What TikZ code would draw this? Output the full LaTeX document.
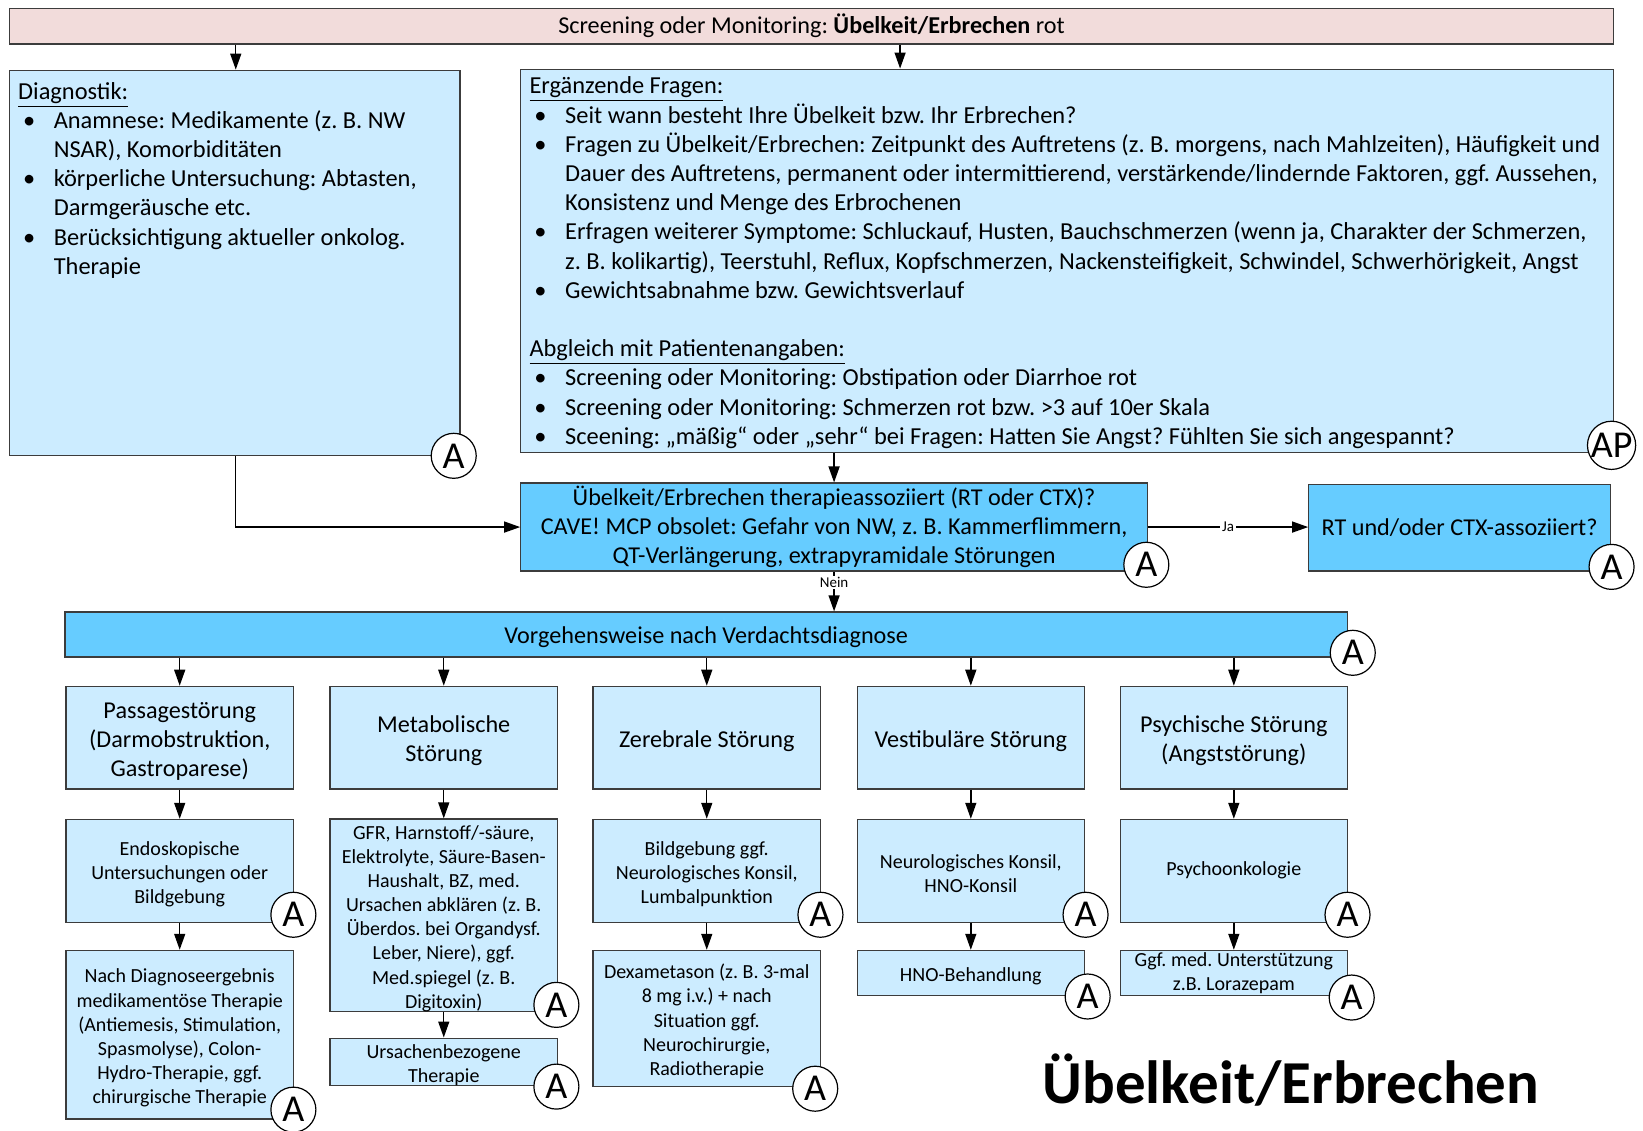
\documentclass[tikz,border=0pt]{standalone}
\usepackage{fontspec}
\setmainfont{Carlito}
\usetikzlibrary{arrows.meta,fit}
\definecolor{paleblue}{RGB}{204,236,255}
\definecolor{midblue}{RGB}{102,204,255}
\definecolor{palerose}{RGB}{242,220,219}
\definecolor{edgegray}{RGB}{60,60,60}
\frenchspacing
% bullet list lines with hanging indent
\newcommand\lstbul[1]{\hspace*{2.4pt}\makebox[15.4pt][l]{\textbullet}#1}
\newcommand\lstcont[1]{\hspace*{17.8pt}#1}
% struts that give the first line of a box a little more headroom
\newcommand\hstrutL{\rule{0pt}{11.5pt}}
\newcommand\hstrutS{\rule{0pt}{10.2pt}}
\begin{document}
\begin{tikzpicture}[x=0.5239pt, y=-0.5239pt,
  box/.style={draw=edgegray, line width=0.6pt, inner sep=0pt},
  pale/.style={box, fill=paleblue},
  mid/.style={box, fill=midblue},
  sz/.style 2 args={minimum width=#1*0.5239pt, minimum height=#2*0.5239pt},
  arr/.style={draw=black, line width=0.7pt, -{Triangle[length=8pt,width=5.5pt]}},
  acirc/.style={circle, draw=black, line width=0.6pt, fill=white, minimum size=22.5pt,
    inner sep=0pt, font=\fontsize{19}{19}\selectfont},
  t12/.style={font=\fontsize{12.1}{14.6}\selectfont, align=center},
  t10/.style={font=\fontsize{10}{12.05}\selectfont, align=center},
  listtxt/.style={anchor=north west, inner sep=0pt, align=left,
    font=\fontsize{12.2}{14.6}\selectfont},
  tag/.style={fill=white, inner sep=0.8pt, font=\fontsize{7.5}{8}\selectfont},
]
\useasboundingbox (0,0) rectangle (1568,1079);

% header
\node[box, fill=palerose, sz={1531}{34}, t12] (scr) at (774.5,25)
  {Screening oder Monitoring: \textbf{Übelkeit/Erbrechen} rot};

% diagnostics and additional questions
\node[pale, fit={(9,67)(439,435)}] (diag) {};
\node[listtxt] (diagtxt) at (17,78) {\underline{Diagnostik:}\\
  \lstbul{Anamnese: Medikamente (z. B. NW}\\
  \lstcont{NSAR), Komorbiditäten}\\
  \lstbul{körperliche Untersuchung: Abtasten,}\\
  \lstcont{Darmgeräusche etc.}\\
  \lstbul{Berücksichtigung aktueller onkolog.}\\
  \lstcont{Therapie}};

\node[pale, fit={(497,66)(1540,432)}] (erg) {};
\node[listtxt] (ergtxt) at (505,73) {\underline{Ergänzende Fragen:}\\
  \lstbul{Seit wann besteht Ihre Übelkeit bzw. Ihr Erbrechen?}\\
  \lstbul{Fragen zu Übelkeit/Erbrechen: Zeitpunkt des Auftretens (z. B. morgens, nach Mahlzeiten), Häufigkeit und}\\
  \lstcont{Dauer des Auftretens, permanent oder intermittierend, verstärkende/lindernde Faktoren, ggf. Aussehen,}\\
  \lstcont{Konsistenz und Menge des Erbrochenen}\\
  \lstbul{Erfragen weiterer Symptome: Schluckauf, Husten, Bauchschmerzen (wenn ja, Charakter der Schmerzen,}\\
  \lstcont{z. B. kolikartig), Teerstuhl, Reflux, Kopfschmerzen, Nackensteifigkeit, Schwindel, Schwerhörigkeit, Angst}\\
  \lstbul{Gewichtsabnahme bzw. Gewichtsverlauf}\\[14.6pt]
  \underline{Abgleich mit Patientenangaben:}\\
  \lstbul{Screening oder Monitoring: Obstipation oder Diarrhoe rot}\\
  \lstbul{Screening oder Monitoring: Schmerzen rot bzw. >3 auf 10er Skala}\\
  \lstbul{Sceening: „mäßig“ oder „sehr“ bei Fragen: Hatten Sie Angst? Fühlten Sie sich angespannt?}};

% therapy question
\node[mid, sz={598}{84}, t12] (ther) at (796,503)
  {Übelkeit/Erbrechen therapieassoziiert (RT oder CTX)?\\
   CAVE! MCP obsolet: Gefahr von NW, z. B. Kammerflimmern,\\
   QT-Verlängerung, extrapyramidale Störungen};
\node[mid, sz={288}{83}, t12] (rt) at (1393,503.5) {RT und/oder CTX-assoziiert?};

\node[mid, sz={1224}{43}, t12] (vorg) at (674,605.5) {\hstrutL Vorgehensweise nach Verdachtsdiagnose};

% suspected diagnoses
\node[pale, sz={217}{98}, t12] (p1) at (171.5,704) {\hstrutL Passagestörung\\(Darmobstruktion,\\Gastroparese)};
\node[pale, sz={217}{98}, t12] (p2) at (423.5,704) {\hstrutL Metabolische\\Störung};
\node[pale, sz={217}{98}, t12] (p3) at (674.5,704) {\hstrutL Zerebrale Störung};
\node[pale, sz={217}{98}, t12] (p4) at (926.5,704) {\hstrutL Vestibuläre Störung};
\node[pale, sz={217}{98}, t12] (p5) at (1177.5,704) {\hstrutL Psychische Störung\\(Angststörung)};

% examinations
\node[pale, sz={217}{98}, t10] (q1) at (171.5,831) {\hstrutS Endoskopische\\Untersuchungen oder\\Bildgebung};
\node[pale, sz={217}{183}, t10] (q2) at (423.5,873.5) {\hstrutS GFR, Harnstoff/-säure,\\Elektrolyte, Säure-Basen-\\Haushalt, BZ, med.\\Ursachen abklären (z. B.\\Überdos. bei Organdysf.\\Leber, Niere), ggf.\\Med.spiegel (z. B.\\Digitoxin)};
\node[pale, sz={217}{98}, t10] (q3) at (674.5,831) {\hstrutS Bildgebung ggf.\\Neurologisches Konsil,\\Lumbalpunktion};
\node[pale, sz={217}{98}, t10] (q4) at (926.5,831) {\hstrutS Neurologisches Konsil,\\HNO-Konsil};
\node[pale, sz={217}{98}, t10] (q5) at (1177.5,831) {Psychoonkologie};

% treatments
\node[pale, sz={217}{161}, t10] (r1) at (171.5,987.5) {\hstrutS Nach Diagnoseergebnis\\medikamentöse Therapie\\(Antiemesis, Stimulation,\\Spasmolyse), Colon-\\Hydro-Therapie, ggf.\\chirurgische Therapie};
\node[pale, sz={217}{45}, t10] (r2) at (423.5,1013.5) {\hstrutS Ursachenbezogene\\Therapie};
\node[pale, sz={217}{130}, t10] (r3) at (674.5,972) {\hstrutS Dexametason (z. B. 3-mal\\8 mg i.v.) + nach\\Situation ggf.\\Neurochirurgie,\\Radiotherapie};
\node[pale, sz={217}{43}, t10] (r4) at (926.5,928.5) {\hstrutS HNO-Behandlung};
\node[pale, sz={217}{43}, t10] (r5) at (1177.5,928.5) {Ggf. med. Unterstützung\\z.B. Lorazepam};

% title
\node[anchor=base, inner sep=0pt, font=\fontsize{30.5}{36}\selectfont\bfseries] (title)
  at (1232,1053) {Übelkeit/Erbrechen};

% connectors
\coordinate (xd) at (225,0);
\coordinate (xe) at (859,0);
\draw[arr] (scr.south -| xd) -- (diag.north -| xd);
\draw[arr] (scr.south -| xe) -- (erg.north -| xe);
\draw[arr] (erg.south -| ther.north) -- (ther.north);
\draw[arr] (diag.south -| xd) |- (ther.west);
\draw[arr] (ther.east) -- node[tag] (ja) {Ja} (ther.east -| rt.west);
\draw[arr] (ther.south) -- node[tag, pos=0.27] (nein) {Nein} (vorg.north -| ther.south);
\foreach \i in {1,...,5} {
  \draw[arr] (vorg.south -| p\i.north) -- (p\i.north);
  \draw[arr] (p\i.south) -- (q\i.north);
  \draw[arr] (q\i.south) -- (r\i.north);
}

% responsibility markers
\node[acirc] (aDiag) at (433,435) {A};
\node[acirc] (aErg) at (1538,425) {AP};
\node[acirc] (aTher) at (1094,539) {A};
\node[acirc] (aRt) at (1538,541) {A};
\node[acirc] (aVorg) at (1291,623) {A};
\node[acirc] (aQ1) at (280,873) {A};
\node[acirc] (aR1) at (280,1059) {A};
\node[acirc] (aQ2) at (531,959) {A};
\node[acirc] (aR2) at (531,1037) {A};
\node[acirc] (aQ3) at (783,873) {A};
\node[acirc] (aR3) at (778,1039) {A};
\node[acirc] (aQ4) at (1036,873) {A};
\node[acirc] (aR4) at (1038,951) {A};
\node[acirc] (aQ5) at (1286,873) {A};
\node[acirc] (aR5) at (1290,952) {A};
\end{tikzpicture}
\end{document}
